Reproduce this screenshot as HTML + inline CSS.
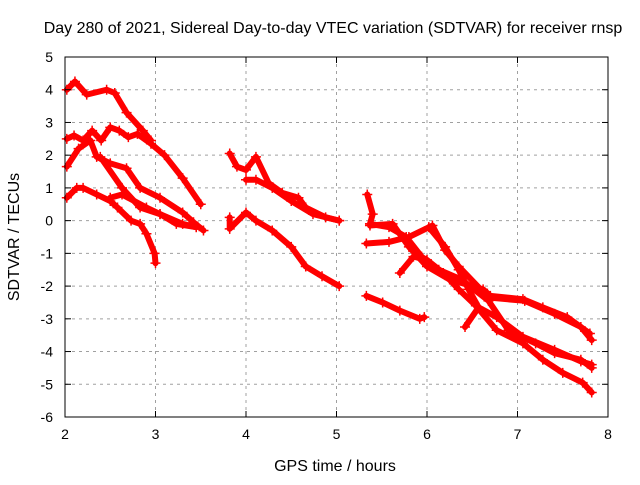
<!DOCTYPE html>
<html><head><meta charset="utf-8"><style>
body{margin:0;background:#fff}
svg text{font-family:"Liberation Sans",sans-serif;font-size:14px;fill:#000}
svg text.big{font-size:16px}
</style></head><body>
<svg id="c" width="640" height="480" xmlns="http://www.w3.org/2000/svg">
<text class="big" x="333" y="33" text-anchor="middle">Day 280 of 2021, Sidereal Day-to-day VTEC variation (SDTVAR) for receiver rnsp</text>
<text class="big" x="335" y="471" text-anchor="middle">GPS time / hours</text>
<text class="big" transform="translate(19,237) rotate(-90)" text-anchor="middle">SDTVAR / TECUs</text>
<g id="grid"></g><g id="marks"></g><g id="axes"></g>
</svg>
<script>
const xTicks=[2,3,4,5,6,7,8];
const yTicks=[-6,-5,-4,-3,-2,-1,0,1,2,3,4,5];
const trackT1=[[2.02,4.0],[2.11,4.25],[2.24,3.85],[2.46,4.0],[2.55,3.9],[2.68,3.3],[2.86,2.75],[2.95,2.45]];
const trackT2=[[2.02,2.5],[2.1,2.6],[2.2,2.45],[2.3,2.75],[2.4,2.45],[2.5,2.85],[2.6,2.75],[2.7,2.55],[2.8,2.65],[2.95,2.35],[3.1,2.0],[3.3,1.3],[3.5,0.5]];
const trackT3=[[2.02,1.65],[2.15,2.2],[2.28,2.45],[2.35,1.95],[2.5,1.75],[2.68,1.6],[2.83,1.0],[3.05,0.7],[3.3,0.25],[3.42,-0.05],[3.53,-0.3]];
const trackT4=[[2.39,1.95],[2.63,1.0],[2.83,0.4],[3.05,0.2],[3.3,-0.1],[3.45,-0.2]];
const trackT5=[[2.02,0.7],[2.13,1.0],[2.2,1.0],[2.35,0.8],[2.5,0.6],[2.58,0.4],[2.73,0.0],[2.83,-0.1],[2.9,-0.4],[2.99,-1.0],[3.0,-1.3]];
const trackT6=[[2.5,0.7],[2.63,0.8],[2.9,0.4],[3.05,0.2],[3.23,-0.1],[3.45,-0.2]];
const trackU1=[[3.82,2.05],[3.9,1.65],[4.0,1.55],[4.11,1.95],[4.25,1.15],[4.4,0.85],[4.58,0.7],[4.66,0.4],[4.88,0.1],[5.03,0.0]];
const trackU2=[[4.0,1.25],[4.11,1.25],[4.29,1.0],[4.5,0.6],[4.74,0.2],[5.03,0.0]];
const trackU3=[[3.82,0.1],[3.82,-0.25],[4.0,0.25],[4.11,0.0],[4.29,-0.3],[4.5,-0.8],[4.66,-1.4],[4.84,-1.7],[5.03,-2.0]];
const trackV1=[[5.33,-2.3],[5.51,-2.5],[5.7,-2.75],[5.92,-3.0],[5.97,-2.95]];
const trackV2=[[5.34,0.8],[5.4,0.2],[5.37,-0.1]];
const trackA=[[5.33,-0.7],[5.58,-0.65],[5.8,-0.5],[6.06,-0.15],[6.2,-0.9],[6.35,-1.4],[6.68,-2.35],[7.08,-2.45],[7.41,-2.85],[7.7,-3.25],[7.82,-3.65]];
const trackB=[[5.37,-0.1],[5.58,-0.2],[5.77,-0.5],[5.94,-1.1],[6.13,-1.5],[6.38,-1.8],[6.68,-2.45],[6.9,-3.35],[7.2,-3.75],[7.41,-4.05],[7.7,-4.25],[7.82,-4.5]];
const trackC=[[5.7,-1.6],[5.85,-1.1],[6.0,-1.2],[6.18,-1.6],[6.35,-2.1],[6.54,-2.6],[6.77,-3.35],[7.06,-3.75],[7.28,-4.25],[7.5,-4.65],[7.72,-4.95],[7.82,-5.25]];
const trackD=[[6.02,-0.2],[6.2,-0.8],[6.35,-1.5],[6.46,-2.1],[6.57,-2.65],[6.77,-2.95],[7.06,-3.55],[7.41,-3.95],[7.7,-4.3],[7.82,-4.4]];
const trackDspur=[[6.57,-2.65],[6.42,-3.25]];
const trackE=[[5.37,-0.15],[5.62,-0.1],[5.8,-0.8],[6.0,-1.4],[6.25,-1.8],[6.62,-2.1],[6.7,-2.3],[7.06,-2.4],[7.28,-2.65],[7.55,-2.95],[7.8,-3.45]];
const tracks=[trackT1,trackT2,trackT3,trackT4,trackT5,trackT6,trackU1,trackU2,trackU3,trackV1,trackV2,trackA,trackB,trackC,trackD,trackDspur,trackE];
const X0=65,X1=608,Y0=417,Y1=57;
const sx=h=>X0+(h-2)/6*(X1-X0);
const sy=v=>Y0-(v+6)/11*(Y0-Y1);
const NS="http://www.w3.org/2000/svg";
function mk(t,a,p){const e=document.createElementNS(NS,t);for(const k in a)e.setAttribute(k,a[k]);p.appendChild(e);return e;}
const grid=document.getElementById('grid'),axes=document.getElementById('axes'),marks=document.getElementById('marks');
xTicks.forEach(t=>{const x=sx(t);
 if(t>2&&t<8){const g=mk('line',{x1:x,x2:x,y1:Y1,y2:Y0,stroke:'#a0a0a0','stroke-dasharray':'3,4'},grid);
 
 }
 mk('line',{x1:x,x2:x,y1:Y0,y2:Y0-6,stroke:'#000'},axes);
 mk('line',{x1:x,x2:x,y1:Y1,y2:Y1+6,stroke:'#000'},axes);
 const l=mk('text',{x:x,y:Y0+22,'text-anchor':'middle'},axes);l.textContent=t;
 
 });
yTicks.forEach(t=>{const y=sy(t);
 if(t>-6&&t<5){const g=mk('line',{x1:X0,x2:X1,y1:y,y2:y,stroke:'#a0a0a0','stroke-dasharray':'3,4'},grid);
 
 }
 mk('line',{x1:X0,x2:X0+6,y1:y,y2:y,stroke:'#000'},axes);
 mk('line',{x1:X1,x2:X1-6,y1:y,y2:y,stroke:'#000'},axes);
 const l=mk('text',{x:X0-12,y:y+5,'text-anchor':'end'},axes);l.textContent=t;
 
 });
const fr=mk('rect',{x:X0,y:Y1,width:X1-X0,height:Y0-Y1,fill:'none',stroke:'#000'},axes);


tracks.forEach(tr=>{
 const pl=mk('polyline',{points:tr.map(p=>sx(p[0])+','+sy(p[1])).join(' '),fill:'none',stroke:'#f00','stroke-width':6,'stroke-linejoin':'round','stroke-linecap':'round'},marks);
 
 
 tr.forEach(p=>{const x=sx(p[0]),y=sy(p[1]);
  const m=mk('path',{d:`M${x-5},${y}H${x+5}M${x},${y-5}V${y+5}`,stroke:'#f00','stroke-width':1.5},marks);
  
  });
});
</script>
</body></html>
